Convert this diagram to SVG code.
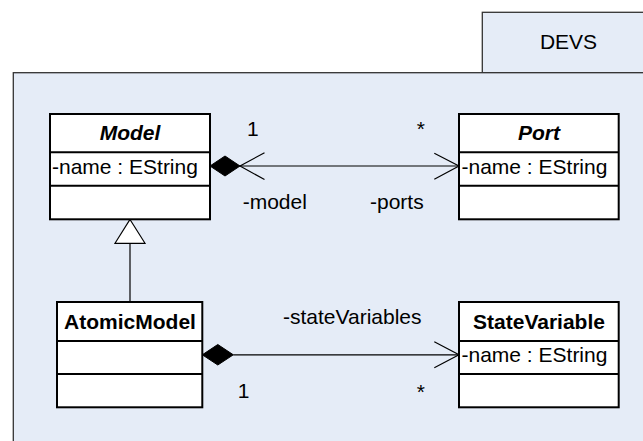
<svg xmlns="http://www.w3.org/2000/svg" width="643" height="441" viewBox="0 0 643 441">
<style>
  text { font-family: "Liberation Sans", Arial, sans-serif; font-size: 21px; fill: #000; }
  .pkg { fill: #E5ECF7; stroke: #333; stroke-width: 1.3; }
  .box { fill: #fff; stroke: #000; stroke-width: 2; }
  .div { stroke: #000; stroke-width: 2; }
  .hdr { font-weight: bold; text-anchor: middle; }
  .abs { font-style: italic; }
  .ln { stroke: #000; stroke-width: 1.2; fill: none; }
  .dia { fill: #000; stroke: #000; stroke-width: 1; }
  .tri { fill: #fff; stroke: #000; stroke-width: 1.2; }
</style>
<rect width="643" height="441" fill="#fff"/>
<g id="package-DEVS">
  <rect class="pkg" x="482.3" y="12.3" width="200" height="60.4"/>
  <rect class="pkg" x="13.3" y="72.7" width="700" height="400"/>
  <text x="568.5" y="49" text-anchor="middle">DEVS</text>
</g>
<g id="connectors">
  <!-- composition Model <>-> Port -->
  <line class="ln" x1="240" y1="166" x2="459" y2="166"/>
  <polygon class="dia" points="210,166 225,156 240,166 225,176"/>
  <polyline class="ln" points="264.5,152.7 240,166 264.5,179.5"/>
  <polyline class="ln" points="434.3,153.3 459,166 434.3,179.3"/>
  <!-- generalization AtomicModel -> Model -->
  <line class="ln" x1="130" y1="243.3" x2="130" y2="302"/>
  <polygon class="tri" points="130,219.5 145,243.3 115,243.3"/>
  <!-- composition AtomicModel <>-> StateVariable -->
  <line class="ln" x1="233.3" y1="354.8" x2="459" y2="354.8"/>
  <polygon class="dia" points="202.3,354.8 217.8,344.5 233.3,354.8 217.8,365"/>
  <polyline class="ln" points="434.3,341.7 459,354.8 434.3,367.7"/>
  <text x="247" y="135.7">1</text>
  <text x="416.7" y="135.7">*</text>
  <text x="242.7" y="209.3">-model</text>
  <text x="370" y="209.3">-ports</text>
  <text x="283" y="324">-stateVariables</text>
  <text x="237.7" y="398.3">1</text>
  <text x="416.7" y="399">*</text>
</g>
<g id="Model">
  <rect class="box" x="50" y="114" width="160" height="105.3"/>
  <line class="div" x1="50" y1="152.3" x2="210" y2="152.3"/>
  <line class="div" x1="50" y1="185.7" x2="210" y2="185.7"/>
  <text class="hdr abs" x="130" y="139.5">Model</text>
  <text x="52" y="174">-name : EString</text>
</g>
<g id="Port">
  <rect class="box" x="459" y="114" width="159.7" height="105.3"/>
  <line class="div" x1="459" y1="152.3" x2="618.7" y2="152.3"/>
  <line class="div" x1="459" y1="185.7" x2="618.7" y2="185.7"/>
  <text class="hdr abs" x="539" y="139.5">Port</text>
  <text x="461.5" y="174">-name : EString</text>
</g>
<g id="AtomicModel">
  <rect class="box" x="57" y="302" width="145.3" height="105.3"/>
  <line class="div" x1="57" y1="341" x2="202.3" y2="341"/>
  <line class="div" x1="57" y1="374" x2="202.3" y2="374"/>
  <text class="hdr" x="130" y="329">AtomicModel</text>
</g>
<g id="StateVariable">
  <rect class="box" x="459" y="302" width="159.7" height="105.3"/>
  <line class="div" x1="459" y1="341" x2="618.7" y2="341"/>
  <line class="div" x1="459" y1="374" x2="618.7" y2="374"/>
  <text class="hdr" x="539" y="329">StateVariable</text>
  <text x="461.5" y="362">-name : EString</text>
</g>
</svg>
